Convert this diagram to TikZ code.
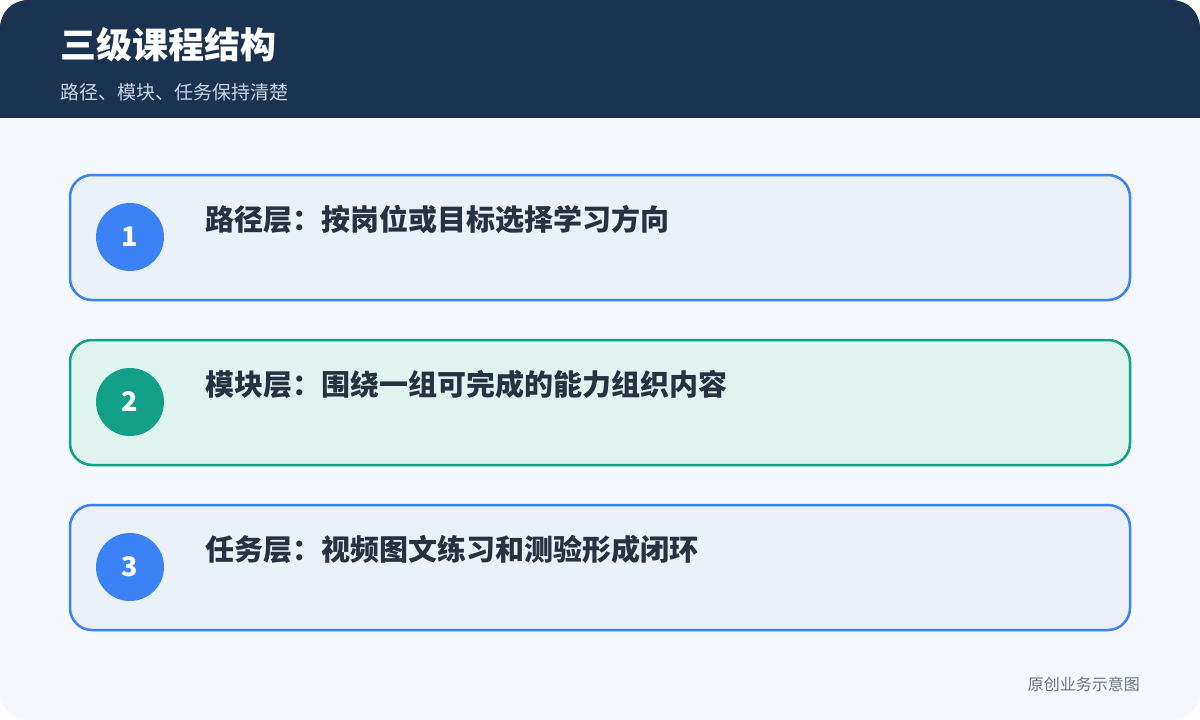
\documentclass[tikz,border=0pt]{standalone}
\usepackage{fontspec}
\setmainfont{Noto Sans CJK SC}
\definecolor{headbg}{HTML}{1A3351}
\definecolor{pagebg}{HTML}{F4F8FC}
\definecolor{bluefill}{HTML}{EAF1F9}
\definecolor{bluestroke}{HTML}{3B82F6}
\definecolor{tealfill}{HTML}{DFF3EF}
\definecolor{tealstroke}{HTML}{12A088}
\definecolor{darktext}{HTML}{263142}
\definecolor{subtext}{HTML}{C9D4E2}
\definecolor{foottext}{HTML}{6B7585}
\begin{document}
\begin{tikzpicture}[x=1pt,y=-1pt,
  card/.style={draw, line width=2.5pt, rounded corners=22pt},
  badge/.style={circle, minimum size=68pt, inner sep=0pt, text=white, font=\fontsize{27}{27}\selectfont\bfseries},
  cardtext/.style={anchor=base west, inner sep=0pt, text=darktext, font=\fontsize{29}{30}\selectfont\bfseries}]
\useasboundingbox (0,0) rectangle (1200,720);
\fill[white] (0,0) rectangle (1200,720);
\fill[pagebg, rounded corners=28pt] (0,0) rectangle (1200,720);
\begin{scope}
\clip[rounded corners=28pt] (0,0) rectangle (1200,720);
\fill[headbg] (0,0) rectangle (1200,118);
\end{scope}
\node[anchor=base west, text=white, inner sep=0pt, font=\fontsize{36}{36}\selectfont\bfseries] (title) at (60,58) {三级课程结构};
\node[anchor=base west, text=subtext, inner sep=0pt, font=\fontsize{19}{19}\selectfont] (subtitle) at (60,99) {路径、模块、任务保持清楚};
% cards
\draw[card, bluestroke, fill=bluefill] (70,175) rectangle (1130,300);
\node[badge, fill=bluestroke] (b1) at (130,237) {1};
\node[cardtext] (t1) at (205,230) {路径层：按岗位或目标选择学习方向};
\draw[card, tealstroke, fill=tealfill] (70,340) rectangle (1130,465);
\node[badge, fill=tealstroke] (b2) at (130,402) {2};
\node[cardtext] (t2) at (205,395) {模块层：围绕一组可完成的能力组织内容};
\draw[card, bluestroke, fill=bluefill] (70,505) rectangle (1130,630);
\node[badge, fill=bluestroke] (b3) at (130,567) {3};
\node[cardtext] (t3) at (205,560) {任务层：视频图文练习和测验形成闭环};
\node[anchor=base east, text=foottext, inner sep=0pt, font=\fontsize{16}{16}\selectfont] (foot) at (1140,690) {原创业务示意图};
\end{tikzpicture}
\end{document}
